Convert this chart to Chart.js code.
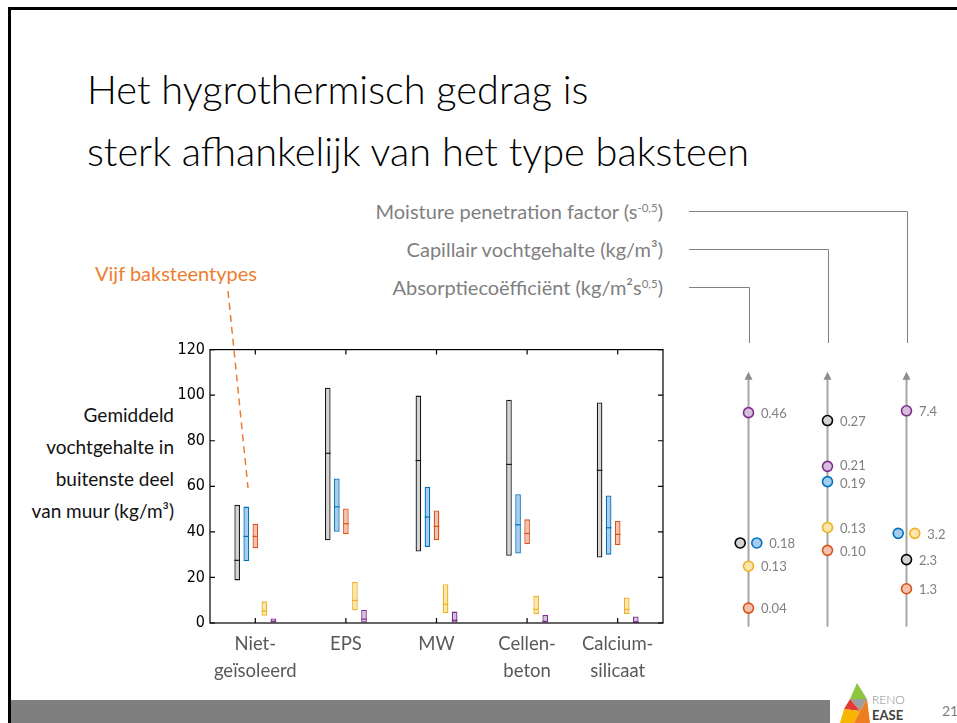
<!DOCTYPE html>
<html>
<head>
<meta charset="utf-8">
<script src="https://cdn.jsdelivr.net/npm/chart.js@4.4.1/dist/chart.umd.min.js"></script>
<style>
html,body{margin:0;padding:0;background:#fff;}
body{width:957px;height:723px;position:relative;overflow:hidden;font-family:Lato,'Open Sans',sans-serif;}
.abs{position:absolute;white-space:nowrap;}
#frameTop{left:8px;top:7px;width:949px;height:3px;background:#000;}
#frameLeft{left:8px;top:7px;width:3px;height:716px;background:#000;}
#title{left:87px;top:58px;font-size:39.7px;font-weight:300;line-height:62px;color:#000;}
#propLabels{right:294px;top:192px;font-size:20px;font-weight:400;line-height:38px;color:#7f7f7f;text-align:right;}
#propLabels sup{font-size:11.5px;vertical-align:7px;line-height:0;}
#yTitle{right:783px;top:399px;font-size:19px;font-weight:400;line-height:32px;color:#111;text-align:right;}
#bricks{left:95px;top:259px;font-size:20px;font-weight:400;line-height:28px;color:#ed7d31;}
#footer{left:11px;top:700px;width:819px;height:23px;background:#7f7f7f;}
#pageNo{left:942px;top:702px;font-size:14px;line-height:18px;color:#7f7f7f;}
#mainWrap{left:160px;top:335px;width:520px;height:355px;}
#sideWrap{left:680px;top:195px;width:277px;height:445px;}
</style>
</head>
<body>
<div class="abs" id="frameTop"></div>
<div class="abs" id="frameLeft"></div>
<div class="abs" id="title">Het hygrothermisch gedrag is<br>sterk afhankelijk van het type baksteen</div>
<div class="abs" id="propLabels">Moisture penetration factor (s<sup>-0,5</sup>)<br>Capillair vochtgehalte (kg/m³)<br>Absorptiecoëfficiënt (kg/m²s<sup>0,5</sup>)</div>
<div class="abs" id="yTitle">Gemiddeld<br>vochtgehalte in<br>buitenste deel<br>van muur (kg/m³)</div>
<div class="abs" id="bricks">Vijf baksteentypes</div>
<svg class="abs" style="left:0;top:0;" width="957" height="723">
  <line x1="228" y1="291" x2="248" y2="488" stroke="#ed7d31" stroke-width="1.5" stroke-dasharray="7,5"/>
</svg>
<div class="abs" id="mainWrap"><canvas id="main" width="520" height="355"></canvas></div>
<div class="abs" id="sideWrap"><canvas id="side" width="277" height="445"></canvas></div>
<div class="abs" id="footer"></div>
<svg class="abs" style="left:840px;top:680px;" width="70" height="43">
  <polygon points="17,3 27,19 10,19" fill="#8cc63f"/>
  <polygon points="10,19 27,19 20,31" fill="#9e9e9e"/>
  <polygon points="4,29 10,19 20,31" fill="#e53935"/>
  <polygon points="4,29 20,31 14,43 0,43" fill="#f7b500"/>
  <polygon points="20,31 27,19 30,43 14,43" fill="#ef7d22"/>
  <text x="32" y="24" font-family="Lato,sans-serif" font-size="12" fill="#8a8a8a" font-weight="300">RENO</text>
  <text x="32" y="40" font-family="Lato,sans-serif" font-size="13" fill="#404040" font-weight="700">EASE</text>
</svg>
<div class="abs" id="pageNo">21</div>
<script>
// ---------- Main chart data ----------
const categories = [['Niet-', 'geïsoleerd'], 'EPS', 'MW', ['Cellen-', 'beton'], ['Calcium-', 'silicaat']];
const seriesNames = ['Baksteen 1', 'Baksteen 2', 'Baksteen 3', 'Baksteen 4', 'Baksteen 5'];

const brick1Min    = [18.7, 36.3, 31.4, 29.5, 28.7];
const brick1Median = [27.5, 74.5, 71.3, 69.6, 67.0];
const brick1Max    = [51.9, 103.3, 99.8, 98.0, 96.8];

const brick2Min    = [27.1, 40.0, 33.4, 30.5, 30.0];
const brick2Median = [38.0, 51.0, 46.5, 43.1, 41.8];
const brick2Max    = [51.1, 63.4, 59.8, 56.5, 56.0];

const brick3Min    = [32.8, 38.9, 36.3, 34.6, 34.1];
const brick3Median = [38.0, 43.6, 42.4, 39.3, 38.9];
const brick3Max    = [43.6, 50.3, 49.4, 45.5, 44.8];

const brick4Min    = [3.2, 5.6, 4.3, 3.9, 3.9];
const brick4Median = [5.3, 9.9, 8.2, 6.0, 6.0];
const brick4Max    = [9.5, 18.0, 17.0, 12.0, 11.2];

const brick5Min    = [0.2, 0.2, 0.2, 0.2, 0.2];
const brick5Median = [0.7, 1.7, 1.2, 0.7, 0.4];
const brick5Max    = [2.0, 5.8, 5.0, 3.5, 2.9];

// ---------- Side panel data (per brick type) ----------
const propertyNames = ['Absorptiecoëfficiënt', 'Capillair vochtgehalte', 'Moisture penetration factor'];
const absorptionCoefficient = [0.18, 0.18, 0.04, 0.13, 0.46];
const capillaryContent      = [0.27, 0.19, 0.10, 0.13, 0.21];
const penetrationFactor     = [2.3, 3.2, 1.3, 3.2, 7.4];
const propertyDecimals      = [2, 2, 1];

// ---------- Styles ----------
const fillColors   = ['#d4d4d4', '#a6cdee', '#f3c1ad', '#fbe6ad', '#d6bedd'];
const borderColors = ['#1a1a1a', '#0072bd', '#d95319', '#edb120', '#7e2f8e'];

Chart.defaults.font.family = "Lato, 'Open Sans', sans-serif";

const mins = [brick1Min, brick2Min, brick3Min, brick4Min, brick5Min];
const meds = [brick1Median, brick2Median, brick3Median, brick4Median, brick5Median];
const maxs = [brick1Max, brick2Max, brick3Max, brick4Max, brick5Max];

const barDatasets = seriesNames.map((name, s) => ({
  label: name,
  data: mins[s].map((lo, i) => [lo, maxs[s][i]]),
  backgroundColor: fillColors[s],
  borderColor: borderColors[s],
  borderWidth: 1.3,
  borderSkipped: false,
  categoryPercentage: 0.5,
  barPercentage: 0.62
}));

const medianPlugin = {
  id: 'medianLines',
  afterDatasetsDraw(chart) {
    const ctx = chart.ctx, y = chart.scales.y;
    ctx.save();
    chart.data.datasets.forEach((ds, s) => {
      const meta = chart.getDatasetMeta(s);
      ctx.strokeStyle = borderColors[s];
      ctx.lineWidth = 1.2;
      meta.data.forEach((el, i) => {
        const py = y.getPixelForValue(meds[s][i]);
        ctx.beginPath();
        ctx.moveTo(el.x - el.width / 2, py);
        ctx.lineTo(el.x + el.width / 2, py);
        ctx.stroke();
      });
    });
    ctx.restore();
  }
};

const framePlugin = {
  id: 'boxFrame',
  afterDraw(chart) {
    const { ctx, chartArea: a, scales: { x, y } } = chart;
    ctx.save();
    ctx.strokeStyle = '#000';
    ctx.lineWidth = 1.2;
    ctx.strokeRect(a.left, a.top, a.right - a.left, a.bottom - a.top);
    ctx.beginPath();
    y.ticks.forEach(t => {
      const py = y.getPixelForValue(t.value);
      ctx.moveTo(a.left, py); ctx.lineTo(a.left + 5, py);
      ctx.moveTo(a.right, py); ctx.lineTo(a.right - 5, py);
    });
    x.ticks.forEach((t, i) => {
      const px = x.getPixelForTick(i);
      ctx.moveTo(px, a.bottom); ctx.lineTo(px, a.bottom - 5);
      ctx.moveTo(px, a.top); ctx.lineTo(px, a.top + 5);
    });
    ctx.stroke();
    ctx.restore();
  }
};

new Chart(document.getElementById('main'), {
  type: 'bar',
  data: { labels: categories, datasets: barDatasets },
  options: {
    responsive: false,
    animation: false,
    devicePixelRatio: 1,
    layout: { padding: { top: 10, right: 17, bottom: 0, left: 0 } },
    plugins: { legend: { display: false }, tooltip: { enabled: false } },
    scales: {
      x: {
        grid: { display: false, drawTicks: false },
        border: { display: false },
        ticks: {
          color: '#595959',
          font: { family: "Lato, 'Open Sans', sans-serif", size: 18.5, lineHeight: 1.46 },
          padding: 8,
          maxRotation: 0,
          autoSkip: false
        },
        afterFit(scale) { scale.height = 67; }
      },
      y: {
        min: 0, max: 120,
        grid: { display: false, drawTicks: false },
        border: { display: false },
        ticks: {
          stepSize: 20,
          color: '#000',
          padding: 5,
          font: { family: "'Liberation Sans Narrow', 'DejaVu Sans Condensed', Arial, sans-serif", size: 16 }
        },
        afterFit(scale) { scale.width = 50; }
      }
    }
  },
  plugins: [medianPlugin, framePlugin]
});

// ---------- Side panel ----------
const propertyValues = [absorptionCoefficient, capillaryContent, penetrationFactor];

function spreadX(vals, base) {
  return vals.map((v, i) => {
    const same = [];
    vals.forEach((w, k) => { if (w === v) same.push(k); });
    if (same.length < 2) return base;
    return base + (same.indexOf(i) - (same.length - 1) / 2) * 0.21;
  });
}

const sideDatasets = propertyValues.map((vals, p) => {
  const xs = spreadX(vals, p);
  return {
    label: propertyNames[p],
    data: vals.map((v, i) => ({ x: xs[i], y: v })),
    yAxisID: 'y' + p,
    pointRadius: 5,
    pointHoverRadius: 5,
    pointBorderWidth: 1.6,
    pointBackgroundColor: fillColors,
    pointBorderColor: borderColors.map(c => c === '#1a1a1a' ? '#000' : c),
    showLine: false,
    clip: false
  };
});

const sideAxesPlugin = {
  id: 'sideAxes',
  beforeDatasetsDraw(chart) {
    const { ctx, chartArea: a, scales: { x } } = chart;
    ctx.save();
    // connectors from property labels to axes
    const connectorY = [92, 54, 16]; // canvas-relative y for Absorptie, Capillair, Moisture
    ctx.strokeStyle = '#808080';
    ctx.lineWidth = 1;
    propertyNames.forEach((n, p) => {
      const px = Math.round(x.getPixelForValue(p)) + 0.5;
      const cy = connectorY[p] + 0.5;
      ctx.beginPath();
      ctx.moveTo(9, cy);
      ctx.lineTo(px, cy);
      ctx.lineTo(px, 148);
      ctx.stroke();
    });
    // arrows
    ctx.strokeStyle = '#a6a6a6';
    ctx.fillStyle = '#8c8c8c';
    ctx.lineWidth = 2;
    propertyNames.forEach((n, p) => {
      const px = x.getPixelForValue(p);
      ctx.beginPath();
      ctx.moveTo(px, a.bottom);
      ctx.lineTo(px, a.top + 6);
      ctx.stroke();
      ctx.beginPath();
      ctx.moveTo(px, a.top);
      ctx.lineTo(px - 4, a.top + 8);
      ctx.lineTo(px + 4, a.top + 8);
      ctx.closePath();
      ctx.fill();
    });
    ctx.restore();
  },
  afterDatasetsDraw(chart) {
    const ctx = chart.ctx;
    ctx.save();
    ctx.fillStyle = '#7f7f7f';
    ctx.font = "13px Lato, 'Open Sans', sans-serif";
    ctx.textAlign = 'left';
    ctx.textBaseline = 'middle';
    chart.data.datasets.forEach((ds, p) => {
      const meta = chart.getDatasetMeta(p);
      const groups = {};
      ds.data.forEach((pt, j) => {
        const key = pt.y.toFixed(propertyDecimals[p]);
        const el = meta.data[j];
        if (!groups[key]) groups[key] = { text: key, x: el.x, y: el.y };
        else groups[key].x = Math.max(groups[key].x, el.x);
      });
      const labels = Object.values(groups).sort((a, b) => a.y - b.y);
      for (let k = 1; k < labels.length; k++) {
        const gap = labels[k].y - labels[k - 1].y;
        if (gap < 18) { const d = (18 - gap) / 2; labels[k - 1].y -= d; labels[k].y += d; }
      }
      labels.forEach(l => ctx.fillText(l.text, l.x + 12.5, l.y + 1));
    });
    ctx.restore();
  }
};

new Chart(document.getElementById('side'), {
  type: 'scatter',
  data: { datasets: sideDatasets },
  options: {
    responsive: false,
    animation: false,
    devicePixelRatio: 1,
    layout: { padding: { top: 176.7, right: 11, bottom: 13.3, left: 29 } },
    plugins: { legend: { display: false }, tooltip: { enabled: false } },
    scales: {
      x: { type: 'linear', min: -0.5, max: 2.5, display: false },
      y0: { type: 'linear', min: 0, max: 0.548, display: false },
      y1: { type: 'linear', min: 0, max: 0.334, display: false },
      y2: { type: 'linear', min: 0, max: 8.74, display: false }
    }
  },
  plugins: [sideAxesPlugin]
});
</script>
</body>
</html>
